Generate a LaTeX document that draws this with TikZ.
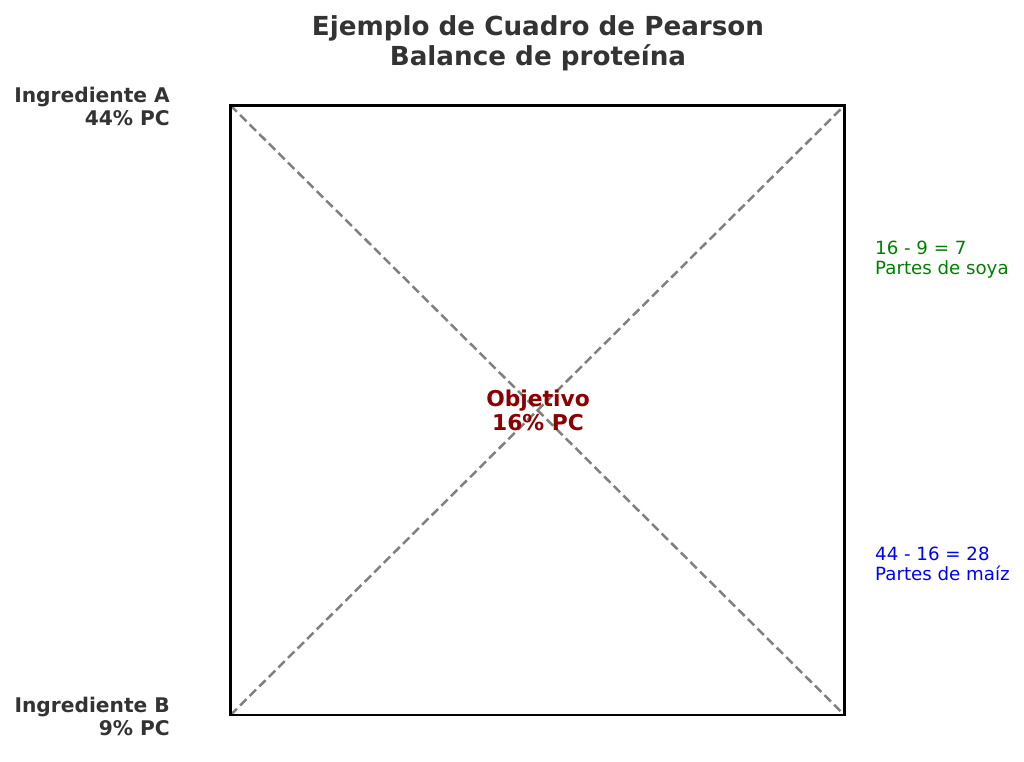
\documentclass[tikz,border=0pt]{standalone}
\usepackage{fontspec}
\setmainfont{DejaVu Sans}[BoldFont={DejaVu Sans Bold}]
\definecolor{txtgray}{HTML}{333333}
\definecolor{dkred}{HTML}{8B0000}
\definecolor{mgreen}{HTML}{008000}
\definecolor{mblue}{HTML}{0000FF}
\definecolor{dgray}{HTML}{808080}
\tikzset{
  ttl/.style={font=\bfseries\fontsize{26.2}{30}\selectfont, text=txtgray, align=center, inner sep=0pt},
  ingr/.style={font=\bfseries\fontsize{20.2}{23}\selectfont, text=txtgray, align=right, inner sep=0pt, anchor=east},
  obj/.style={font=\bfseries\fontsize{21.8}{23.4}\selectfont, text=dkred, align=center, inner sep=0pt},
  rlab/.style={font=\fontsize{18.2}{20}\selectfont, align=left, inner sep=0pt, anchor=west},
  sq/.style={draw=black, line width=2.5pt},
  diag/.style={draw=dgray, line width=2.5pt, dash pattern=on 9pt off 4.5pt},
}
\begin{document}
\begin{tikzpicture}[x=1pt,y=-1pt]
\useasboundingbox (0,0) rectangle (1024,761);
\coordinate (tl) at (230.5,105.5);
\coordinate (tr) at (844.5,105.5);
\coordinate (bl) at (230.5,715);
\coordinate (br) at (844.5,715);
\draw[diag] (tl) -- (br);
\draw[diag] (bl) -- (tr);
\draw[sq] (tl) -- (tr) -- (br) -- (bl) -- cycle;
\node[ttl] (title) at (538,43) {Ejemplo de Cuadro de Pearson\\Balance de proteína};
\node[ingr] (ia) at (170,106) {Ingrediente A\\44\% PC};
\node[ingr] (ib) at (170,716) {Ingrediente B\\9\% PC};
\node[obj] (ob) at (538,410.5) {Objetivo\\16\% PC};
\node[rlab, text=mgreen] (soya) at (875,260) {16 - 9 = 7\\Partes de soya};
\node[rlab, text=mblue] (maiz) at (875,564) {44 - 16 = 28\\Partes de maíz};
\end{tikzpicture}
\end{document}
